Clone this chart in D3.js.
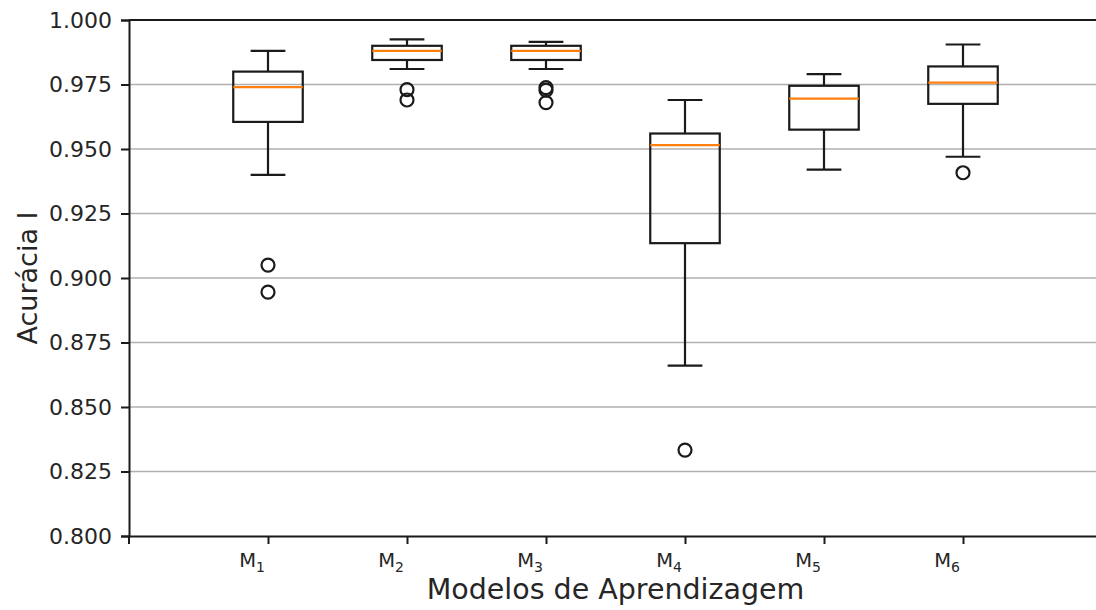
<!DOCTYPE html>
<html>
<head>
<meta charset="utf-8">
<script src="https://cdn.jsdelivr.net/npm/d3@7"></script>
<style>
  body { margin: 0; background: #fff; }
  text { font-family: "DejaVu Sans", sans-serif; fill: #262626; }
</style>
</head>
<body>
<svg id="chart" width="1096" height="610"></svg>
<script>
let models = ["1", "2", "3", "4", "5", "6"],
  whiskerHi = [0.988, 0.9925, 0.9915, 0.969, 0.979, 0.9905],
  q3 = [0.980, 0.990, 0.990, 0.956, 0.9745, 0.982],
  median = [0.974, 0.988, 0.988, 0.9515, 0.9695, 0.9757],
  q1 = [0.9605, 0.9845, 0.9845, 0.9135, 0.9575, 0.9675],
  whiskerLo = [0.940, 0.981, 0.981, 0.866, 0.942, 0.947],
  outliers = [[0.905, 0.8945], [0.973, 0.969], [0.9738, 0.9728, 0.968], [0.8333], [], [0.9408]],
  yTicks = [0.800, 0.825, 0.850, 0.875, 0.900, 0.925, 0.950, 0.975, 1.000]

let margin = { left: 129, top: 20, bottom: 536, right: 1102 }
let svg = d3.select("#chart")

let x = d3.scaleLinear().domain([0, 7]).range([margin.left, margin.right])
let y = d3.scaleLinear().domain([0.8, 1.0]).range([margin.bottom, margin.top])
let ink = "#1a1a1a"

// grid
svg.append("g")
  .selectAll("line")
  .data(yTicks.filter(t => t > 0.8 && t < 1.0)).enter()
  .append("line")
  .attr("x1", margin.left).attr("x2", margin.right)
  .attr("y1", d => y(d)).attr("y2", d => y(d))
  .attr("stroke", "#b0b0b0").attr("stroke-width", 1.6)

// y axis
let yAxis = svg.append("g")
  .attr("transform", `translate(${margin.left},0)`)
  .call(d3.axisLeft(y).tickValues(yTicks).tickFormat(d3.format(".3f")).tickSize(8).tickPadding(9))
yAxis.select(".domain").attr("stroke", ink).attr("stroke-width", 2)
yAxis.selectAll(".tick line").attr("stroke", ink).attr("stroke-width", 2)
yAxis.selectAll(".tick text").attr("font-size", 22).attr("font-family", "DejaVu Sans").attr("fill", "#262626")

// x axis
let xAxis = svg.append("g")
  .attr("transform", `translate(0,${margin.bottom})`)
  .call(d3.axisBottom(x).tickValues(d3.range(1, models.length + 1)).tickFormat("").tickSize(8).tickSizeOuter(0))
xAxis.select(".domain").attr("stroke", ink).attr("stroke-width", 2)
xAxis.selectAll(".tick line").attr("stroke", ink).attr("stroke-width", 2)
// outer tick at left end
svg.append("line")
  .attr("x1", margin.left).attr("x2", margin.left)
  .attr("y1", margin.bottom).attr("y2", margin.bottom + 8)
  .attr("stroke", ink).attr("stroke-width", 2)

// top spine
svg.append("line")
  .attr("x1", margin.left).attr("x2", margin.right)
  .attr("y1", margin.top).attr("y2", margin.top)
  .attr("stroke", ink).attr("stroke-width", 2)

// x tick labels M_i
let lbl = svg.append("g").selectAll("text")
  .data(models).enter()
  .append("text")
  .attr("x", (d, i) => x(i + 1) - 3)
  .attr("y", 567)
  .attr("text-anchor", "end")
  .attr("font-size", 19.5)
lbl.append("tspan").text("M")
lbl.append("tspan").attr("font-size", 14).attr("dy", 5).text(d => d)

// boxes
let bw = x(1.25) - x(1), cw = x(1.125) - x(1)
let g = svg.append("g").selectAll("g")
  .data(models).enter()
  .append("g")

g.append("line")
  .attr("x1", (d, i) => x(i + 1)).attr("x2", (d, i) => x(i + 1))
  .attr("y1", (d, i) => y(whiskerHi[i])).attr("y2", (d, i) => y(q3[i]))
  .attr("stroke", ink).attr("stroke-width", 2.2)
g.append("line")
  .attr("x1", (d, i) => x(i + 1)).attr("x2", (d, i) => x(i + 1))
  .attr("y1", (d, i) => y(whiskerLo[i])).attr("y2", (d, i) => y(q1[i]))
  .attr("stroke", ink).attr("stroke-width", 2.2)
g.append("line")
  .attr("x1", (d, i) => x(i + 1) - cw).attr("x2", (d, i) => x(i + 1) + cw)
  .attr("y1", (d, i) => y(whiskerHi[i])).attr("y2", (d, i) => y(whiskerHi[i]))
  .attr("stroke", ink).attr("stroke-width", 2.2)
g.append("line")
  .attr("x1", (d, i) => x(i + 1) - cw).attr("x2", (d, i) => x(i + 1) + cw)
  .attr("y1", (d, i) => y(whiskerLo[i])).attr("y2", (d, i) => y(whiskerLo[i]))
  .attr("stroke", ink).attr("stroke-width", 2.2)
g.append("rect")
  .attr("x", (d, i) => x(i + 1) - bw).attr("width", 2 * bw)
  .attr("y", (d, i) => y(q3[i])).attr("height", (d, i) => y(q1[i]) - y(q3[i]))
  .attr("fill", "none").attr("stroke", ink).attr("stroke-width", 2.2)
g.append("line")
  .attr("x1", (d, i) => x(i + 1) - bw).attr("x2", (d, i) => x(i + 1) + bw)
  .attr("y1", (d, i) => y(median[i])).attr("y2", (d, i) => y(median[i]))
  .attr("stroke", "#ff7f0e").attr("stroke-width", 2.2)
g.selectAll("circle")
  .data((d, i) => outliers[i].map(v => ({ i: i, v: v }))).enter()
  .append("circle")
  .attr("cx", d => x(d.i + 1)).attr("cy", d => y(d.v))
  .attr("r", 6.5)
  .attr("fill", "none").attr("stroke", ink).attr("stroke-width", 2.2)

// axis titles
svg.append("text")
  .attr("x", (margin.left + margin.right) / 2).attr("y", 599)
  .attr("text-anchor", "middle").attr("font-size", 28.5)
  .text("Modelos de Aprendizagem")
svg.append("text")
  .attr("transform", `translate(37,${(margin.top + margin.bottom) / 2}) rotate(-90)`)
  .attr("text-anchor", "middle").attr("font-size", 27)
  .text("Acurácia I")
</script>
</body>
</html>
